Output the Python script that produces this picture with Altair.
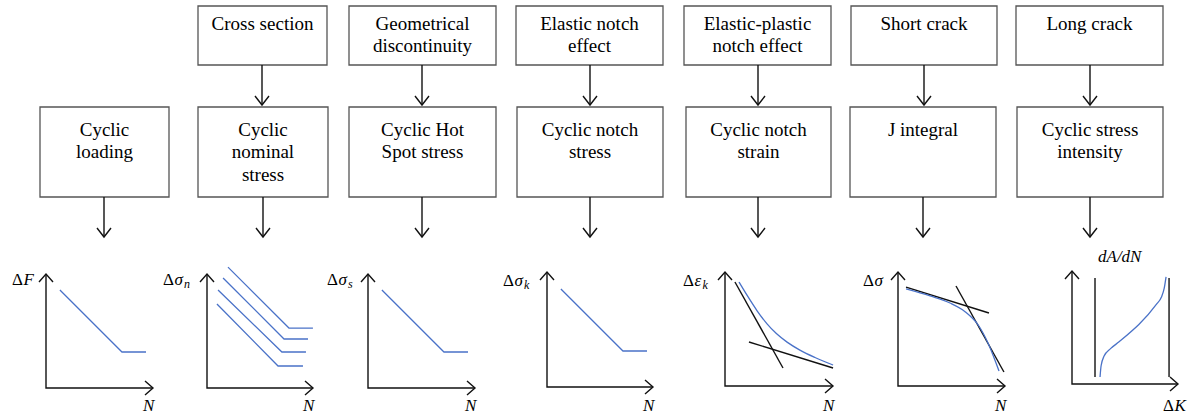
import altair as alt
import pandas as pd

CW, CH = 1192, 416
FONT = "Liberation Serif"
BLUE = "#4a72c8"

# ---------------- text content ----------------
top_labels = ["Cross section", "Geometrical\ndiscontinuity", "Elastic notch\neffect",
              "Elastic-plastic\nnotch effect", "Short crack", "Long crack"]
mid_labels = ["Cyclic\nloading", "Cyclic\nnominal\nstress", "Cyclic Hot\nSpot stress",
              "Cyclic notch\nstress", "Cyclic notch\nstrain", "J integral",
              "Cyclic stress\nintensity"]
# y-axis labels of the small diagrams: (upright, italic, italic subscript)
y_labels = [("Δ", "F", ""), ("Δ", "σ", "n"), ("Δ", "σ", "s"), ("Δ", "σ", "k"),
            ("Δ", "ε", "k"), ("Δ", "σ", "")]
x_label = "N"
crack_y_label = "dA/dN"
crack_x_label = ("Δ", "K")

# ---------------- curve values (local coords, 0..1 of axis length) ----------------
sn_u = [0.13, 0.71, 0.935]
sn_v = [0.86, 0.316, 0.316]
nominal_u = [[0.196, 0.766, 0.99], [0.15, 0.72, 0.944], [0.103, 0.70, 0.925], [0.093, 0.664, 0.897]]
nominal_v = [[1.06, 0.526, 0.526], [0.965, 0.43, 0.43], [0.86, 0.316, 0.316], [0.737, 0.193, 0.193]]
strain_u = [0.131, 0.21, 0.30, 0.393, 0.48, 0.58, 0.70, 0.841, 1.01]
strain_v = [0.912, 0.79, 0.66, 0.545, 0.46, 0.385, 0.315, 0.25, 0.184]
strain_t1_u, strain_t1_v = [0.093, 0.542], [0.912, 0.158]
strain_t2_u, strain_t2_v = [0.224, 1.01], [0.386, 0.158]
j_u = [0.075, 0.30, 0.486, 0.63, 0.75, 0.84, 0.944]
j_v = [0.851, 0.79, 0.728, 0.65, 0.535, 0.38, 0.132]
j_t1_u, j_t1_v = [0.075, 0.85], [0.868, 0.64]
j_t2_u, j_t2_v = [0.542, 0.99], [0.877, 0.123]
k_u = [0.262, 0.272, 0.30, 0.36, 0.44, 0.79, 0.835, 0.862, 0.879]
k_v = [0.061, 0.16, 0.245, 0.31, 0.37, 0.70, 0.76, 0.84, 0.939]
k_lim_u = [0.215, 0.907]
k_lim_v = [0.061, 0.93]

# ---------------- layout ----------------
top_x = [(198, 327), (349, 496), (516, 663), (684, 831), (851, 997), (1016, 1163)]
top_y = (6, 65)
mid_x = [(40, 169), (198, 328), (349, 496), (517, 663), (686, 831), (850, 996), (1017, 1163)]
mid_y = (107, 197)
frames = [(46, 388, 153, 274), (207, 388, 313, 274), (368, 388, 475, 274),
          (547, 387, 653, 272), (725, 386, 833, 272), (898, 386, 1005, 272),
          (1072, 384, 1178, 271)]
LW, LH = 107, 114
ylab_left = [12, 163, 327, 503, 683, 863]
letter_w = {"F": 10.5, "σ": 9.5, "ε": 8}
LINE_H = 22.5

rows = []
def add(pid, pts, kind):
    for i, (x, y) in enumerate(pts):
        rows.append(dict(pid=pid, ord=i, px=x, py=y, kind=kind))

def arrow_down(pid, x, y1, y2):
    add(pid + "s", [(x, y1), (x, y2)], "black")
    add(pid + "h", [(x - 7, y2 - 9), (x, y2), (x + 7, y2 - 9)], "black")

def local(fi, us, vs):
    x0, y0, _, _ = frames[fi]
    return [(x0 + u * LW, y0 - v * LH) for u, v in zip(us, vs)]

# boxes
box_rows = []
for (a, b) in top_x:
    box_rows.append(dict(x1=a, x2=b, y1=top_y[0], y2=top_y[1]))
for (a, b) in mid_x:
    box_rows.append(dict(x1=a, x2=b, y1=mid_y[0], y2=mid_y[1]))
boxes = pd.DataFrame(box_rows)

# arrows
for i, (a, b) in enumerate(top_x):
    cx = round((a + b) / 2)
    arrow_down(f"ta{i}", cx, top_y[1], mid_y[0] - 2)
for i, (a, b) in enumerate(mid_x):
    cx = round((a + b) / 2)
    arrow_down(f"ma{i}", cx, mid_y[1], 237)

# axes of small diagrams
for i, (x0, y0, xe, yt) in enumerate(frames):
    add(f"ax{i}", [(x0, yt), (x0, y0), (xe, y0)], "black")
    add(f"ay{i}h", [(x0 - 7, yt + 8), (x0, yt), (x0 + 7, yt + 8)], "black")
    add(f"ax{i}h", [(xe - 8, y0 - 7), (xe, y0), (xe - 8, y0 + 7)], "black")

# straight curves
for fi in (0, 2, 3):
    add(f"sn{fi}", local(fi, sn_u, sn_v), "blue")
for j in range(4):
    add(f"nom{j}", local(1, nominal_u[j], nominal_v[j]), "blue")
add("strain_t1", local(4, strain_t1_u, strain_t1_v), "black")
add("strain_t2", local(4, strain_t2_u, strain_t2_v), "black")
add("j_t1", local(5, j_t1_u, j_t1_v), "black")
add("j_t2", local(5, j_t2_u, j_t2_v), "black")
for j, u in enumerate(k_lim_u):
    add(f"klim{j}", local(6, [u, u], k_lim_v), "black")
# smooth curves
add("strain", local(4, strain_u, strain_v), "smooth")
add("j", local(5, j_u, j_v), "smooth")
add("k", local(6, k_u, k_v), "smooth")

lines = pd.DataFrame(rows)

# box texts
bt = []
for (a, b), lab in zip(top_x, top_labels):
    for k, ln in enumerate(lab.split("\n")):
        bt.append(dict(x=(a + b) / 2, y=29.5 + k * LINE_H, t=ln))
for (a, b), lab in zip(mid_x, mid_labels):
    for k, ln in enumerate(lab.split("\n")):
        bt.append(dict(x=(a + b) / 2, y=135.5 + k * LINE_H, t=ln))
box_text = pd.DataFrame(bt)

# diagram labels
up, it, sub = [], [], []
for i, ((d, l, s), L) in enumerate(zip(y_labels, ylab_left)):
    base = 285 if i < 3 else 286
    up.append(dict(x=L, y=base, t=d))
    it.append(dict(x=L + 11.5, y=base, t=l))
    if s:
        sub.append(dict(x=L + 11.5 + letter_w[l], y=base + 3, t=s))
    xe = frames[i][2]
    it.append(dict(x=xe - 10, y=411, t=x_label))
it.append(dict(x=1098, y=262, t=crack_y_label))
up.append(dict(x=1163, y=411, t=crack_x_label[0]))
it.append(dict(x=1174.5, y=411, t=crack_x_label[1]))
up_df, it_df, sub_df = pd.DataFrame(up), pd.DataFrame(it), pd.DataFrame(sub)

xs = alt.Scale(domain=[0, CW], nice=False, zero=False)
ys = alt.Scale(domain=[CH, 0], nice=False, zero=False)

def xy(xf, yf):
    return dict(x=alt.X(f"{xf}:Q", scale=xs, axis=None), y=alt.Y(f"{yf}:Q", scale=ys, axis=None))

rect_layer = alt.Chart(boxes).mark_rect(fill="white", stroke="#555555", strokeWidth=1.3).encode(
    x=alt.X("x1:Q", scale=xs, axis=None), x2="x2:Q",
    y=alt.Y("y1:Q", scale=ys, axis=None), y2="y2:Q")

black_layer = alt.Chart(lines).transform_filter(alt.datum.kind == "black").mark_line(
    color="#111111", strokeWidth=1.4).encode(**xy("px", "py"), detail="pid:N", order="ord:Q")
blue_layer = alt.Chart(lines).transform_filter(alt.datum.kind == "blue").mark_line(
    color=BLUE, strokeWidth=1.3).encode(**xy("px", "py"), detail="pid:N", order="ord:Q")
smooth_layer = alt.Chart(lines).transform_filter(alt.datum.kind == "smooth").mark_line(
    color=BLUE, strokeWidth=1.3, interpolate="monotone").encode(**xy("px", "py"), detail="pid:N", order="ord:Q")

box_text_layer = alt.Chart(box_text).mark_text(
    font=FONT, fontSize=19, color="#000000", align="center", baseline="alphabetic").encode(
    **xy("x", "y"), text="t:N")
up_layer = alt.Chart(up_df).mark_text(
    font=FONT, fontSize=17, color="#000000", align="left", baseline="alphabetic").encode(
    **xy("x", "y"), text="t:N")
it_layer = alt.Chart(it_df).mark_text(
    font=FONT, fontSize=17, fontStyle="italic", color="#000000", align="left", baseline="alphabetic").encode(
    **xy("x", "y"), text="t:N")
sub_layer = alt.Chart(sub_df).mark_text(
    font=FONT, fontSize=12, fontStyle="italic", color="#000000", align="left", baseline="alphabetic").encode(
    **xy("x", "y"), text="t:N")

chart = alt.layer(rect_layer, black_layer, blue_layer, smooth_layer, box_text_layer, up_layer, it_layer, sub_layer).properties(
    width=CW, height=CH, padding=0, autosize=alt.AutoSizeParams(type="none")
).configure(font=FONT).configure_text(font=FONT).configure_view(stroke=None)

chart.save("out.html", embed_options={"renderer": "svg", "actions": False})
